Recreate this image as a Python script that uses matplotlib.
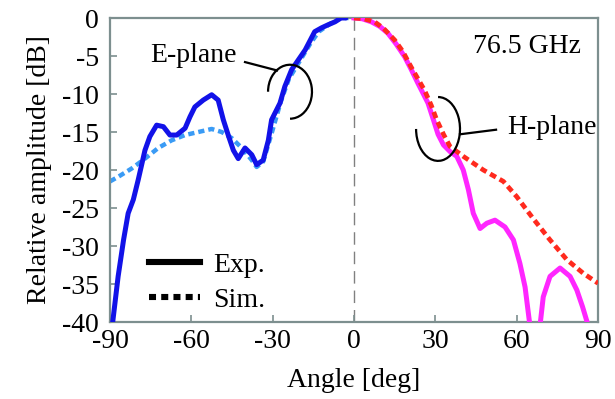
import matplotlib
matplotlib.use("Agg")
import matplotlib.pyplot as plt
from matplotlib.patches import Arc
from matplotlib.lines import Line2D

# ---- data ----
e_exp_angle = [-89, -87, -85, -83.3, -81.4, -79.6, -77.1, -75.3, -72.8, -70.3, -67.9, -65.4,
               -62.3, -60.5, -58.7, -55.6, -52.5, -50.1, -48.2, -46.4, -44.5, -42.7, -40.2,
               -37.7, -35.9, -33.5, -31.6, -30.4, -27.3, -25.5, -23, -20.5, -18, -14.5, -12,
               -9.6, -7, -4.8, -3]
e_exp_db = [-40, -34, -29.2, -25.7, -23.9, -21.3, -17.4, -15.6, -14.1, -14.3, -15.4, -15.4,
            -14.5, -13, -11.7, -10.8, -10.1, -10.8, -13.4, -15.4, -17.4, -18.5, -17.1,
            -18, -19.3, -18.7, -16.1, -13.4, -11.2, -9, -6.8, -5.5, -4.2, -1.8, -1.3,
            -0.9, -0.5, 0, 0]

e_sim_angle = [-90, -87, -82, -77.1, -72.2, -67.3, -62.3, -57.4, -52.5, -48.8, -45.1, -41.4,
               -37.7, -35.9, -33.5, -30.4, -27, -24, -19.4, -16, -13, -9, -4.8, -2]
e_sim_db = [-21.5, -20.9, -19.8, -18.5, -17.1, -16.1, -15.4, -15, -14.6, -15, -15.8, -17.1,
            -18.7, -19.6, -18.9, -15.2, -11, -8, -5.3, -3.3, -1.8, -0.8, 0, 0]

h_exp_angle = [0, 3, 6.4, 9.5, 12.5, 15.5, 18.7, 21, 23.6, 27.3, 29.3, 31, 33, 35.5, 37.9,
               40.3, 42.2, 44, 46.5, 49, 52, 55.7, 58.8, 61.2, 63.1, 64.9]
h_exp_db = [0, -0.1, -0.5, -1.1, -2, -3.4, -5.1, -6.7, -8.6, -11.2, -13.4, -15.3, -16.7,
            -17.6, -18.2, -20, -22.6, -25.7, -27.7, -27, -26.6, -27.5, -29.2, -32.3, -35.4, -40.5]

h_exp2_angle = [68.6, 69.8, 72.3, 76, 79.7, 82.2, 84.3, 86.4]
h_exp2_db = [-40.5, -36.7, -34, -32.9, -34, -35.8, -38, -40.5]

h_sim_angle = [0, 3.5, 7.6, 11, 15, 18, 21, 26, 28.5, 30.5, 33, 35.4, 40.3, 47.7, 55.1, 60,
               66.1, 72.3, 78.5, 84.6, 90]
h_sim_db = [0, -0.1, -0.5, -1.4, -2.9, -4.4, -6.4, -9.5, -11.5, -13.4, -15.3, -16.9, -18.2,
            -20, -21.5, -23.5, -26.4, -29.2, -31.8, -33.6, -34.9]

x_ticks = [-90, -60, -30, 0, 30, 60, 90]
y_ticks = [0, -5, -10, -15, -20, -25, -30, -35, -40]

# ---- style ----
plt.rcParams['font.family'] = ['Liberation Serif', 'DejaVu Serif']
plt.rcParams['axes.unicode_minus'] = False
FS = 20

fig = plt.figure(figsize=(6.15, 3.99), dpi=100)
ax = fig.add_axes([110/615, 77/399, 488/615, 304/399])

DARK_BLUE = '#1212E8'
LIGHT_BLUE = '#3A9BF5'
MAGENTA = '#FF26FF'
RED = '#FF2A1E'
SPINE = '#7d8f8f'

dot = (1.4, 0.9)
ax.axvline(0, color='#808080', lw=1.0, dashes=(9, 5), zorder=1)

ax.plot(e_sim_angle, e_sim_db, color=LIGHT_BLUE, lw=3.2, dashes=dot, dash_capstyle='butt', zorder=2)
ax.plot(e_exp_angle, e_exp_db, color=DARK_BLUE, lw=3.6, solid_capstyle='round', zorder=3)
ax.plot(h_exp_angle, h_exp_db, color=MAGENTA, lw=3.6, zorder=3)
ax.plot(h_exp2_angle, h_exp2_db, color=MAGENTA, lw=3.6, zorder=3)
ax.plot(h_sim_angle, h_sim_db, color=RED, lw=3.4, dashes=dot, dash_capstyle='butt', zorder=4)

ax.set_xlim(-90, 90)
ax.set_ylim(-40, 0)
ax.set_xticks(x_ticks)
ax.set_xticklabels([str(v) for v in x_ticks])
ax.set_yticks(y_ticks)
ax.set_yticklabels([str(v) for v in y_ticks])
ax.tick_params(direction='in', length=5, width=1.2, color=SPINE, labelsize=FS)
ax.tick_params(axis='y', pad=8)
ax.tick_params(axis='x', pad=5)
for s in ax.spines.values():
    s.set_color(SPINE)
    s.set_linewidth(1.6)

ax.set_xlabel('Angle [deg]', fontsize=FS, labelpad=10)
ax.set_ylabel('Relative amplitude [dB]', fontsize=FS, labelpad=7)

# annotations
ax.text(0.744, 0.905, '76.5 GHz', transform=ax.transAxes, fontsize=FS, va='center', ha='left')
ax.text(0.082, 0.878, 'E-plane', transform=ax.transAxes, fontsize=FS, va='center', ha='left')
ax.text(0.8135, 0.641, 'H-plane', transform=ax.transAxes, fontsize=FS, va='center', ha='left')

ax.add_patch(Arc((-23.6, -9.7), 16.2, 7.1, theta1=-90, theta2=180, color='black', lw=1.6, zorder=5))
ax.plot([-40.2, -28.4], [-5.8, -6.9], color='black', lw=1.6, zorder=5)
ax.add_patch(Arc((31.0, -14.6), 16.2, 8.4, theta1=180, theta2=90, color='black', lw=1.6, zorder=5))
ax.plot([52.4, 39.1], [-14.7, -15.3], color='black', lw=1.6, zorder=5)

handles = [Line2D([], [], color='black', lw=4.4),
           Line2D([], [], color='black', lw=4.4, dashes=(1.15, 0.85), dash_capstyle='butt')]
leg = ax.legend(handles, ['Exp.', 'Sim.'], loc='lower left', bbox_to_anchor=(0.08, 0.03),
                frameon=False, fontsize=FS, handlelength=1.85, handletextpad=0.45,
                labelspacing=0.35, borderpad=0, borderaxespad=0)

fig.savefig('out.png', dpi=100)
